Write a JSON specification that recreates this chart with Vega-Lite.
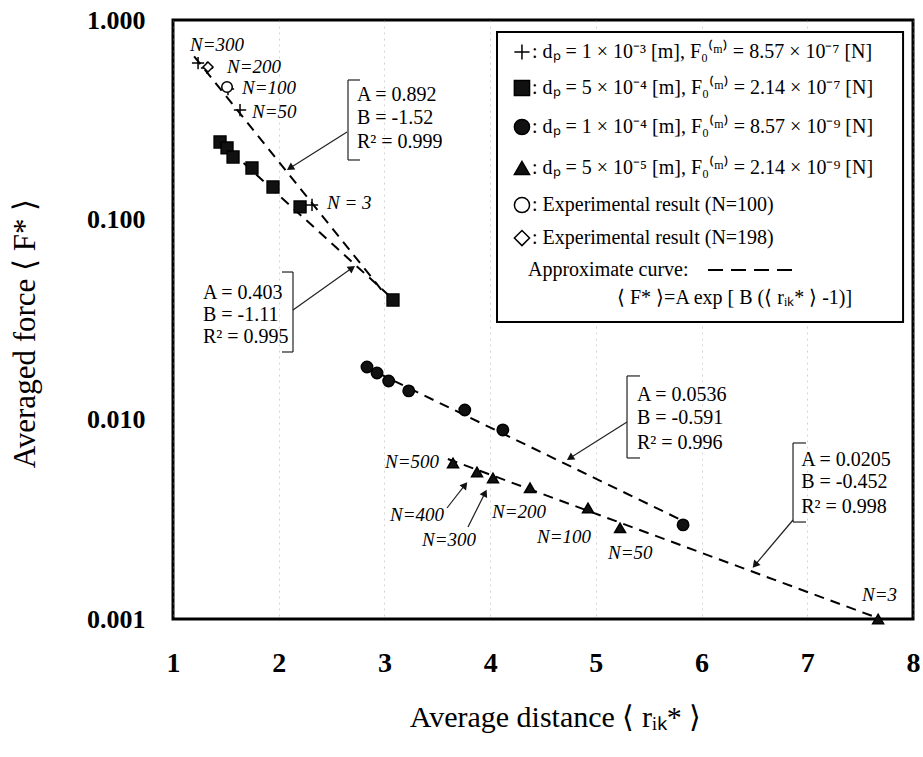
{
  "$schema": "https://vega.github.io/schema/vega-lite/v6.json",
  "width": 740,
  "height": 599,
  "autosize": {"type": "none"},
  "padding": {"left": 173, "top": 20, "right": 10, "bottom": 138},
  "background": "white",
  "config": {
    "font": "Liberation Serif",
    "view": {"stroke": "black", "strokeWidth": 3},
    "axis": {"domain": false, "ticks": false, "labelFont": "Liberation Serif", "titleFont": "Liberation Serif", "labelColor": "black", "titleColor": "black", "titleFontWeight": "normal", "labelFlush": false, "labelOverlap": false}
  },
  "datasets": {
    "points": [
      {"series": "cross", "x": 1.237, "y": 0.609},
      {"series": "cross", "x": 1.322, "y": 0.575},
      {"series": "cross", "x": 1.52, "y": 0.451},
      {"series": "cross", "x": 1.634, "y": 0.354},
      {"series": "cross", "x": 2.315, "y": 0.1185},
      {"series": "square", "x": 1.445, "y": 0.245},
      {"series": "square", "x": 1.511, "y": 0.2287},
      {"series": "square", "x": 1.568, "y": 0.206},
      {"series": "square", "x": 1.747, "y": 0.1815},
      {"series": "square", "x": 1.946, "y": 0.1458},
      {"series": "square", "x": 2.202, "y": 0.1158},
      {"series": "square", "x": 3.081, "y": 0.0396},
      {"series": "circle", "x": 2.835, "y": 0.01829},
      {"series": "circle", "x": 2.93, "y": 0.01707},
      {"series": "circle", "x": 3.04, "y": 0.01557},
      {"series": "circle", "x": 3.23, "y": 0.01388},
      {"series": "circle", "x": 3.76, "y": 0.01114},
      {"series": "circle", "x": 4.12, "y": 0.00885},
      {"series": "circle", "x": 5.825, "y": 0.00296},
      {"series": "triangle", "x": 3.649, "y": 0.00605},
      {"series": "triangle", "x": 3.876, "y": 0.00545},
      {"series": "triangle", "x": 4.027, "y": 0.00509},
      {"series": "triangle", "x": 4.377, "y": 0.00454},
      {"series": "triangle", "x": 4.926, "y": 0.0036},
      {"series": "triangle", "x": 5.229, "y": 0.00286},
      {"series": "triangle", "x": 7.67, "y": 0.001},
      {"series": "expCircle", "x": 1.511, "y": 0.462},
      {"series": "expDiamond", "x": 1.331, "y": 0.582}
    ],
    "fits": [
      {"fit": "cross", "x": 1.2, "y": 0.658},
      {"fit": "cross", "x": 3.0, "y": 0.0427},
      {"fit": "square", "x": 1.43, "y": 0.25},
      {"fit": "square", "x": 3.08, "y": 0.04},
      {"fit": "circle", "x": 2.8, "y": 0.0185},
      {"fit": "circle", "x": 5.83, "y": 0.00309},
      {"fit": "triangle", "x": 3.6, "y": 0.00633},
      {"fit": "triangle", "x": 7.67, "y": 0.00101}
    ],
    "box": [
      {"x": 4.065, "y": 0.8708, "x2": 7.906, "y2": 0.03073}
    ],
    "legendSymbols": [
      {"series": "cross", "x": 4.301, "y": 0.6915},
      {"series": "square", "x": 4.301, "y": 0.4565},
      {"series": "circle", "x": 4.301, "y": 0.2911},
      {"series": "triangle", "x": 4.301, "y": 0.1815},
      {"series": "expCircle", "x": 4.301, "y": 0.1184},
      {"series": "expDiamond", "x": 4.301, "y": 0.0809}
    ],
    "legendDash": [
      {"x": 6.061, "y": 0.056, "x2": 6.931, "y2": 0.056}
    ],
    "segments": [
      {"x": 2.6554, "y": 0.5006, "x2": 2.6554, "y2": 0.199},
      {"x": 2.6554, "y": 0.5006, "x2": 2.769, "y2": 0.5006},
      {"x": 2.6554, "y": 0.199, "x2": 2.769, "y2": 0.199},
      {"x": 2.646, "y": 0.2748, "x2": 2.1068, "y2": 0.1815},
      {"x": 2.1351, "y": 0.05468, "x2": 2.1351, "y2": 0.02174},
      {"x": 2.031, "y": 0.05468, "x2": 2.1351, "y2": 0.05468},
      {"x": 2.031, "y": 0.02174, "x2": 2.1351, "y2": 0.02174},
      {"x": 2.1351, "y": 0.03528, "x2": 2.6933, "y2": 0.05728},
      {"x": 5.2947, "y": 0.01649, "x2": 5.2947, "y2": 0.006404},
      {"x": 5.2947, "y": 0.01649, "x2": 5.4177, "y2": 0.01649},
      {"x": 5.2947, "y": 0.006404, "x2": 5.4177, "y2": 0.006404},
      {"x": 5.2947, "y": 0.009697, "x2": 4.7555, "y2": 0.006404},
      {"x": 6.865, "y": 0.007612, "x2": 6.865, "y2": 0.00306},
      {"x": 6.865, "y": 0.007612, "x2": 6.988, "y2": 0.007612},
      {"x": 6.865, "y": 0.00306, "x2": 6.988, "y2": 0.00306},
      {"x": 6.865, "y": 0.003132, "x2": 6.5055, "y2": 0.001864},
      {"x": 3.5919, "y": 0.003597, "x2": 3.7622, "y2": 0.00469},
      {"x": 3.7906, "y": 0.002889, "x2": 3.9514, "y2": 0.004277}
    ],
    "heads": [
      {"x": 2.1068, "y": 0.1815, "dir": 237.7},
      {"x": 2.6933, "y": 0.05728, "dir": 54.6},
      {"x": 4.7555, "y": 0.006404, "dir": 237.7},
      {"x": 6.5055, "y": 0.001864, "dir": 220.2},
      {"x": 3.7622, "y": 0.00469, "dir": 38.0},
      {"x": 3.9514, "y": 0.004277, "dir": 26.6}
    ],
    "texts": [
      {"x": 2.7405, "y": 0.421, "text": "A =  0.892"},
      {"x": 2.7405, "y": 0.323, "text": "B = -1.52"},
      {"x": 2.7405, "y": 0.2449, "text": "R² = 0.999"},
      {"x": 1.2838, "y": 0.04293, "text": "A =  0.403"},
      {"x": 1.2838, "y": 0.03332, "text": "B = -1.11"},
      {"x": 1.2838, "y": 0.02585, "text": "R² = 0.995"},
      {"x": 5.389, "y": 0.01324, "text": "A =  0.0536"},
      {"x": 5.389, "y": 0.01016, "text": "B = -0.591"},
      {"x": 5.389, "y": 0.007612, "text": "R² = 0.996"},
      {"x": 6.942, "y": 0.006257, "text": "A =  0.0205"},
      {"x": 6.942, "y": 0.004857, "text": "B = -0.452"},
      {"x": 6.942, "y": 0.003639, "text": "R² = 0.998"},
      {"x": 4.396, "y": 0.6915, "text": ": dₚ = 1 × 10⁻³ [m],   F₀⁽ᵐ⁾ = 8.57 × 10⁻⁷ [N]"},
      {"x": 4.396, "y": 0.4565, "text": ": dₚ = 5 × 10⁻⁴ [m],   F₀⁽ᵐ⁾ = 2.14 × 10⁻⁷ [N]"},
      {"x": 4.396, "y": 0.2911, "text": ": dₚ = 1 × 10⁻⁴ [m],   F₀⁽ᵐ⁾ = 8.57 × 10⁻⁹ [N]"},
      {"x": 4.396, "y": 0.1815, "text": ": dₚ = 5 × 10⁻⁵ [m],   F₀⁽ᵐ⁾ = 2.14 × 10⁻⁹ [N]"},
      {"x": 4.396, "y": 0.1184, "text": ":  Experimental result (N=100)"},
      {"x": 4.396, "y": 0.0809, "text": ":  Experimental result (N=198)"},
      {"x": 4.358, "y": 0.056, "text": "Approximate curve:"},
      {"x": 5.2, "y": 0.04052, "text": "⟨ F* ⟩=A exp [ B (⟨ rᵢₖ* ⟩ -1)]"}
    ],
    "nlabels": [
      {"x": 1.1608, "y": 0.7496, "text": "N=300"},
      {"x": 1.5108, "y": 0.5815, "text": "N=200"},
      {"x": 1.6527, "y": 0.4565, "text": "N=100"},
      {"x": 1.7473, "y": 0.3461, "text": "N=50"},
      {"x": 2.4568, "y": 0.1212, "text": "N = 3"},
      {"x": 3.0054, "y": 0.006114, "text": "N=500"},
      {"x": 3.0527, "y": 0.003318, "text": "N=400"},
      {"x": 3.3554, "y": 0.002487, "text": "N=300"},
      {"x": 4.0176, "y": 0.003435, "text": "N=200"},
      {"x": 4.4433, "y": 0.002575, "text": "N=100"},
      {"x": 5.1149, "y": 0.002141, "text": "N=50"},
      {"x": 7.5176, "y": 0.001319, "text": "N=3"}
    ]
  },
  "layer": [
    {
      "data": {"name": "fits"},
      "mark": {"type": "line", "color": "black", "strokeWidth": 2, "strokeDash": [10, 7], "clip": false},
      "encoding": {
        "x": {"field": "x", "type": "quantitative", "scale": {"type": "linear", "domain": [1, 8], "nice": false, "zero": false},
          "axis": {"values": [1, 2, 3, 4, 5, 6, 7, 8], "format": "d", "labelFontSize": 28, "labelFontWeight": "bold", "labelPadding": 30, "grid": true, "gridColor": "#999999", "gridDash": [2, 4], "gridWidth": 1, "gridOpacity": 0.4, "title": "Average distance ⟨ rᵢₖ* ⟩", "titleFontSize": 30, "titleX": 382, "titleY": 98, "titleBaseline": "middle", "titleAlign": "center"}},
        "y": {"field": "y", "type": "quantitative", "scale": {"type": "log", "domain": [0.001, 1], "nice": false},
          "axis": {"values": [0.001, 0.01, 0.1, 1], "format": ".3f", "labelFontSize": 26, "labelFontWeight": "bold", "labelPadding": 28, "grid": false, "title": "Averaged force ⟨ F* ⟩", "titleFontSize": 31, "titleX": -148, "titleY": 313, "titleBaseline": "middle", "titleAlign": "center", "titleAngle": -90}},
        "detail": {"field": "fit"}
      }
    },
    {
      "data": {"name": "points"},
      "mark": {"type": "point", "stroke": "black", "strokeWidth": 1.5, "opacity": 1, "fillOpacity": 1, "clip": false},
      "encoding": {
        "x": {"field": "x", "type": "quantitative"},
        "y": {"field": "y", "type": "quantitative"},
        "shape": {"field": "series", "scale": {"domain": ["cross", "square", "circle", "triangle", "expCircle", "expDiamond"], "range": ["M-1,0L1,0M0,-1L0,1", "square", "circle", "triangle-up", "circle", "diamond"]}, "legend": null},
        "fill": {"field": "series", "scale": {"domain": ["cross", "square", "circle", "triangle", "expCircle", "expDiamond"], "range": ["transparent", "#111111", "#111111", "#111111", "white", "white"]}, "legend": null},
        "size": {"field": "series", "scale": {"domain": ["cross", "square", "circle", "triangle", "expCircle", "expDiamond"], "range": [150, 100, 130, 150, 70, 90]}, "legend": null}
      }
    },
    {
      "data": {"name": "box"},
      "mark": {"type": "rect", "fill": "white", "stroke": "black", "strokeWidth": 2},
      "encoding": {
        "x": {"field": "x", "type": "quantitative"},
        "y": {"field": "y", "type": "quantitative"},
        "x2": {"field": "x2"},
        "y2": {"field": "y2"}
      }
    },
    {
      "data": {"name": "legendSymbols"},
      "mark": {"type": "point", "stroke": "black", "strokeWidth": 1.5, "opacity": 1, "fillOpacity": 1, "size": 230},
      "encoding": {
        "x": {"field": "x", "type": "quantitative"},
        "y": {"field": "y", "type": "quantitative"},
        "shape": {"field": "series", "legend": null},
        "fill": {"field": "series", "legend": null}
      }
    },
    {
      "data": {"name": "legendDash"},
      "mark": {"type": "rule", "color": "black", "strokeWidth": 2, "strokeDash": [15, 8]},
      "encoding": {
        "x": {"field": "x", "type": "quantitative"},
        "y": {"field": "y", "type": "quantitative"},
        "x2": {"field": "x2"},
        "y2": {"field": "y2"}
      }
    },
    {
      "data": {"name": "segments"},
      "mark": {"type": "rule", "color": "#222222", "strokeWidth": 1.2},
      "encoding": {
        "x": {"field": "x", "type": "quantitative"},
        "y": {"field": "y", "type": "quantitative"},
        "x2": {"field": "x2"},
        "y2": {"field": "y2"}
      }
    },
    {
      "data": {"name": "heads"},
      "mark": {"type": "point", "shape": "triangle-up", "filled": true, "color": "#111111", "opacity": 1, "size": 70},
      "encoding": {
        "x": {"field": "x", "type": "quantitative"},
        "y": {"field": "y", "type": "quantitative"},
        "angle": {"field": "dir", "type": "quantitative", "scale": null}
      }
    },
    {
      "data": {"name": "texts"},
      "mark": {"type": "text", "font": "Liberation Serif", "fontSize": 20, "align": "left", "baseline": "middle", "color": "black"},
      "encoding": {
        "x": {"field": "x", "type": "quantitative"},
        "y": {"field": "y", "type": "quantitative"},
        "text": {"field": "text"}
      }
    },
    {
      "data": {"name": "nlabels"},
      "mark": {"type": "text", "font": "Liberation Serif", "fontSize": 19, "fontStyle": "italic", "align": "left", "baseline": "middle", "color": "black"},
      "encoding": {
        "x": {"field": "x", "type": "quantitative"},
        "y": {"field": "y", "type": "quantitative"},
        "text": {"field": "text"}
      }
    }
  ]
}
